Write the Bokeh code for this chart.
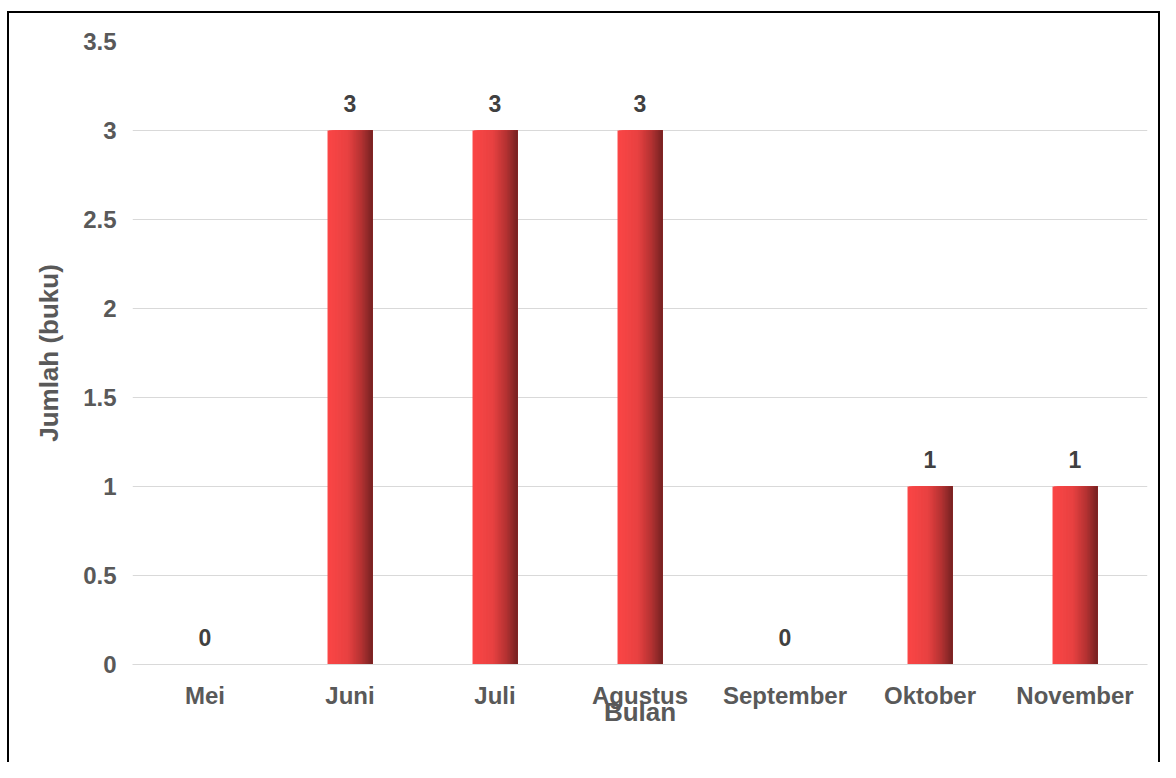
from bokeh.plotting import figure
from bokeh.models import ColumnDataSource, Range1d, FactorRange, FixedTicker
from bokeh.transform import dodge
from bokeh.core.properties import value
from bokeh.embed import file_html
from bokeh.resources import INLINE

months = ["Mei", "Juni", "Juli", "Agustus", "September", "Oktober", "November"]
counts = [0, 3, 3, 3, 0, 1, 1]
y_ticks = [0, 0.5, 1, 1.5, 2, 2.5, 3, 3.5]
y_tick_labels = ["0", "0.5", "1", "1.5", "2", "2.5", "3", "3.5"]

# gradient stops (position, rgb) for the bar fill
grad_pos = [0.0, 0.45, 0.75, 1.0]
grad_rgb = [(251, 70, 70), (232, 65, 65), (180, 50, 50), (118, 34, 34)]

source = ColumnDataSource(dict(month=months, count=counts,
                               label=[str(c) for c in counts]))

FONT = "Liberation Sans"
W, H = 1160, 762

p = figure(width=W, height=H, x_range=FactorRange(*months, range_padding=0),
           y_range=Range1d(0, 3.5), output_backend="svg", toolbar_location=None,
           min_border_left=132, min_border_right=13, min_border_top=41,
           min_border_bottom=98)
p.border_fill_color = None
p.background_fill_color = None
p.styles = {"background-color": "white",
            "box-shadow": "inset 3.5px 7.5px 0 3.5px white, inset 3.5px 7.5px 0 5.5px black"}
p.outline_line_color = None

def interp(t):
    for i in range(len(grad_pos) - 1):
        a, b = grad_pos[i], grad_pos[i + 1]
        if a <= t <= b:
            f = (t - a) / (b - a)
            c = tuple(int(round(grad_rgb[i][k] + f * (grad_rgb[i + 1][k] - grad_rgb[i][k]))) for k in range(3))
            return "#%02x%02x%02x" % c
    return "#%02x%02x%02x" % grad_rgb[-1]

bar_w = 0.31
N = 30
sw = bar_w / N
for k in range(N):
    left = -bar_w / 2 + sw * k
    right = bar_w / 2
    col = interp((k + 0.5) / N)
    p.vbar(x=dodge("month", (left + right) / 2, range=p.x_range), top="count",
           width=right - left, source=source, fill_color=col, line_color=None)

p.text(x="month", y="count", text="label", source=source,
       text_align="center", text_baseline="alphabetic", y_offset=-27,
       text_font=value(FONT), text_font_style="bold", text_font_size="23px",
       text_color="#404040")

p.xgrid.grid_line_color = None
p.ygrid.grid_line_color = "#d9d9d9"
p.ygrid.grid_line_width = 1
p.yaxis.ticker = FixedTicker(ticks=y_ticks)
p.yaxis.major_label_overrides = {t: l for t, l in zip(y_ticks, y_tick_labels)}

for ax in (p.xaxis[0], p.yaxis[0]):
    ax.major_tick_line_color = None
    ax.minor_tick_line_color = None
    ax.major_label_text_font = FONT
    ax.major_label_text_font_style = "bold"
    ax.major_label_text_font_size = "24px"
    ax.major_label_text_color = "#595959"
    ax.axis_label_text_font = FONT
    ax.axis_label_text_font_style = "bold"
    ax.axis_label_text_font_size = "26px"
    ax.axis_label_text_color = "#595959"

p.yaxis.axis_line_color = None
p.xaxis.axis_line_color = "#d9d9d9"
p.yaxis.major_label_standoff = 10
p.xaxis.major_label_standoff = 11
p.yaxis.axis_label = "Jumlah (buku)"
p.xaxis.axis_label = "Bulan"
p.yaxis.axis_label_standoff = 16
p.xaxis.axis_label_standoff = -15

open("out.html", "w").write(file_html(p, INLINE))
